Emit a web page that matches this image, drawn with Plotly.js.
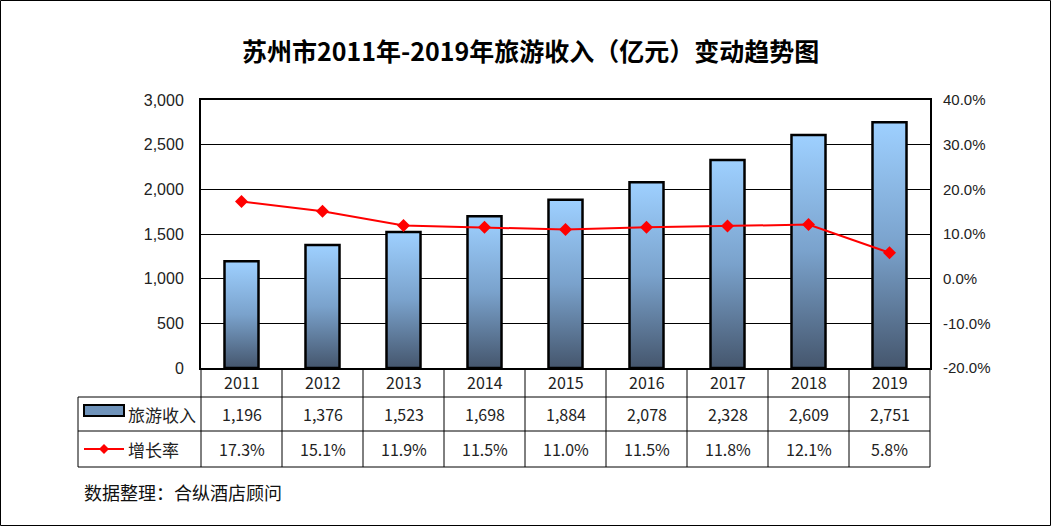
<!DOCTYPE html>
<html>
<head>
<meta charset="utf-8">
<script src="https://cdn.plot.ly/plotly-3.0.1.min.js"></script>
<style>html,body{margin:0;padding:0;background:#fff;}#chart{width:1051px;height:526px;}</style>
</head>
<body>
<div id="chart"></div>
<script>
// ---- data ----
var years = ['2011','2012','2013','2014','2015','2016','2017','2018','2019'];
var revenue = [1196, 1376, 1523, 1698, 1884, 2078, 2328, 2609, 2751];
var growth = [17.3, 15.1, 11.9, 11.5, 11.0, 11.5, 11.8, 12.1, 5.8];
var rightTicks = [-20, -10, 0, 10, 20, 30, 40];
var seriesNames = ['旅游收入', '增长率'];
var titleText = '苏州市2011年-2019年旅游收入（亿元）变动趋势图';
var sourceText = '数据整理：合纵酒店顾问';

// ---- layout geometry (pixels) ----
var W = 1051, H = 526;
var L = 201, R = 930, T = 100, B = 368;
var PW = R - L, PH = B - T;
function px(x) { return (x - L) / PW; }
function py(y) { return (B - y) / PH; }

var cjk = '"Noto Sans CJK SC", "Noto Sans", sans-serif';
var arial = '"Liberation Sans", Arial, sans-serif';
var barHalf = 0.21;
var gradScale = [[0, '#45566D'], [0.5, '#7AA2CC'], [1, '#9ED0FF']];

var traces = [];
years.forEach(function (yr, i) {
  traces.push({
    type: 'scatter', mode: 'lines',
    x: [i - barHalf, i - barHalf, i + barHalf, i + barHalf, i - barHalf],
    y: [0, revenue[i], revenue[i], 0, 0],
    fill: 'toself',
    fillgradient: { type: 'vertical', colorscale: gradScale, start: 0, stop: revenue[i] },
    line: { color: '#000', width: 2.5 },
    name: seriesNames[0], showlegend: false, hoverinfo: 'skip'
  });
});
traces.push({
  type: 'scatter', mode: 'lines+markers',
  x: years.map(function (_, i) { return i; }),
  y: growth, yaxis: 'y2',
  line: { color: '#FF0000', width: 2 },
  marker: { symbol: 'diamond', size: 10, color: '#FF0000' },
  name: seriesNames[1], showlegend: false
});

// ---- table (shapes + annotations) ----
var shapes = [];
var ann = [];
function hline(x0, x1, y, w) { shapes.push({ type: 'line', xref: 'paper', yref: 'paper', x0: px(x0), x1: px(x1), y0: py(y), y1: py(y), line: { color: '#000', width: w || 1 } }); }
function vline(x, y0, y1, w) { shapes.push({ type: 'line', xref: 'paper', yref: 'paper', x0: px(x), x1: px(x), y0: py(y0), y1: py(y1), line: { color: '#000', width: w || 1 } }); }
var r1 = 397, r2 = 431, r3 = 467, tl = 78;
hline(tl, R, r1); hline(tl, R, r2); hline(tl, R, r3);
vline(tl, r1, r3);
for (var k = 0; k <= years.length; k++) {
  vline(L + k * PW / years.length, B, r3);
}
// outer frame
shapes.push({ type: 'rect', xref: 'paper', yref: 'paper', x0: px(0.5), x1: px(W - 0.5), y0: py(H - 0.5), y1: py(0.5), line: { color: '#000', width: 1 } });
// legend keys
shapes.push({ type: 'rect', xref: 'paper', yref: 'paper', x0: px(84), x1: px(124), y0: py(416), y1: py(405), line: { color: '#000', width: 2 }, fillcolor: '#6F93BA' });
shapes.push({ type: 'line', xref: 'paper', yref: 'paper', x0: px(84), x1: px(124), y0: py(449), y1: py(449), line: { color: '#FF0000', width: 2 } });
shapes.push({ type: 'path', xref: 'paper', yref: 'paper', path: 'M' + px(104) + ',' + py(444) + ' L' + px(109) + ',' + py(449) + ' L' + px(104) + ',' + py(454) + ' L' + px(99) + ',' + py(449) + ' Z', fillcolor: '#FF0000', line: { width: 0 } });

function fmt(v) { return v.toLocaleString('en-US'); }
function cell(x, xref, y, text, size, xa) {
  ann.push({ xref: xref, yref: 'paper', x: x, y: py(y), xanchor: xa || 'center', yanchor: 'middle', text: text, showarrow: false, font: { family: cjk, size: size, color: '#222' } });
}
years.forEach(function (yr, i) {
  cell(i, 'x', (B + r1) / 2 - 1, yr, 16);
  cell(i, 'x', (r1 + r2) / 2, fmt(revenue[i]), 16);
  cell(i, 'x', (r2 + r3) / 2, growth[i].toFixed(1) + '%', 16);
});
cell(px(126), 'paper', (r1 + r2) / 2, seriesNames[0], 17, 'left');
cell(px(126), 'paper', (r2 + r3) / 2, seriesNames[1], 17, 'left');
ann.push({ xref: 'paper', yref: 'paper', x: px(82), y: py(492), xanchor: 'left', yanchor: 'middle', text: sourceText, showarrow: false, font: { family: cjk, size: 18, color: '#111' } });

var layout = {
  width: W, height: H,
  margin: { l: L, r: W - R, t: T, b: H - B, pad: 0 },
  paper_bgcolor: '#fff', plot_bgcolor: '#fff',
  title: { text: '<b>' + titleText + '</b>', x: 0.505, xanchor: 'center', y: 1 - 52 / H, yanchor: 'middle', font: { family: cjk, size: 25, color: '#000' } },
  showlegend: false,
  xaxis: { range: [-0.5, years.length - 0.5], showticklabels: false, ticks: '', showgrid: false, zeroline: false, showline: true, linecolor: '#000', linewidth: 2, mirror: true, fixedrange: true },
  yaxis: { range: [0, 3000], dtick: 500, tickformat: ',d', showgrid: true, gridcolor: '#000', gridwidth: 1, zeroline: false, showline: true, linecolor: '#000', linewidth: 2, mirror: true, ticks: '', ticklabelstandoff: 12, tickfont: { family: arial, size: 16, color: '#222' } },
  yaxis2: { overlaying: 'y', side: 'right', range: [-20, 40], tickmode: 'array', tickvals: rightTicks, ticktext: rightTicks.map(function (v) { return v.toFixed(1) + '%'; }), showgrid: false, zeroline: false, showline: false, ticks: '', ticklabelstandoff: 12, tickfont: { family: arial, size: 15, color: '#222' } },
  shapes: shapes,
  annotations: ann
};

Plotly.newPlot('chart', traces, layout, { displayModeBar: false, staticPlot: true });
</script>
</body>
</html>
